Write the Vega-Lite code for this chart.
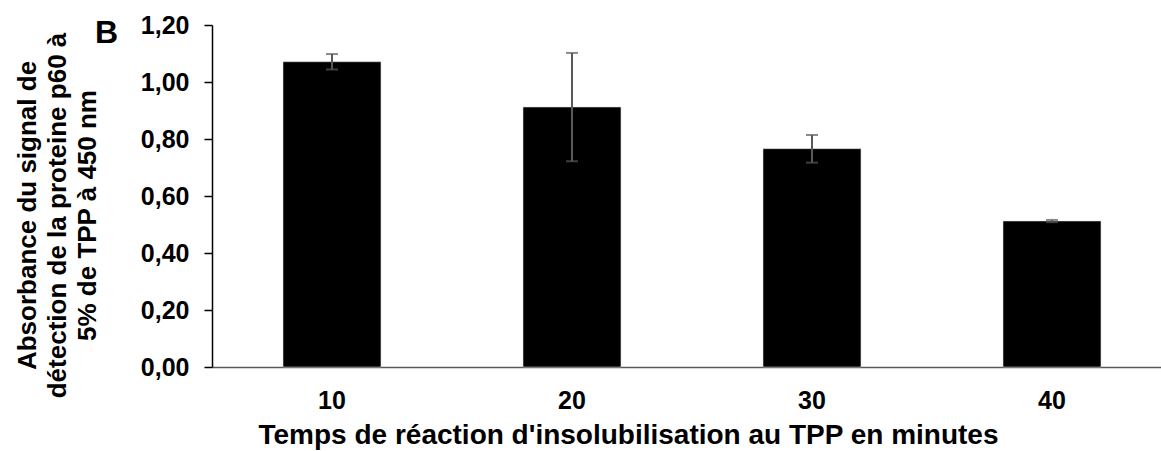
{
  "$schema": "https://vega.github.io/schema/vega-lite/v6.json",
  "autosize": {"type": "none"},
  "width": 949,
  "height": 342,
  "padding": {"left": 212, "top": 25, "right": 0, "bottom": 84},
  "background": "white",
  "config": {
    "view": {"stroke": null},
    "font": "Liberation Sans",
    "axis": {"labelFont": "Liberation Sans", "titleFont": "Liberation Sans", "labelFontWeight": "bold", "titleFontWeight": "bold", "labelColor": "black", "titleColor": "black", "grid": false}
  },
  "title": {"text": "B", "anchor": "start", "frame": "group", "fontSize": 32, "font": "Liberation Sans", "fontWeight": "bold", "color": "black", "dx": -117, "dy": 66, "baseline": "alphabetic"},
  "data": {"values": [
    {"time": "10", "mean": 1.071, "lo": 1.044, "hi": 1.098},
    {"time": "20", "mean": 0.912, "lo": 0.722, "hi": 1.102},
    {"time": "30", "mean": 0.766, "lo": 0.717, "hi": 0.814},
    {"time": "40", "mean": 0.512, "lo": 0.508, "hi": 0.516}
  ]},
  "encoding": {
    "x": {
      "field": "time", "type": "nominal", "sort": null,
      "scale": {"range": [0, 960], "paddingInner": 0.592, "paddingOuter": 0.296},
      "axis": {"title": "Temps de réaction d'insolubilisation au TPP en minutes", "labelAngle": 0, "labelFontSize": 25, "titleFontSize": 28, "ticks": false, "labelPadding": 21, "titlePadding": 8, "domainColor": "#595959", "domainWidth": 1.5, "titleX": 416, "titleAnchor": "middle", "titleAlign": "center"}
    }
  },
  "layer": [
    {
      "mark": {"type": "bar", "color": "black", "stroke": "#d9d9d9", "strokeWidth": 0.5},
      "encoding": {
        "y": {
          "field": "mean", "type": "quantitative",
          "scale": {"domain": [0, 1.2], "nice": false},
          "axis": {
            "values": [0, 0.2, 0.4, 0.6, 0.8, 1.0, 1.2],
            "labelExpr": "replace(format(datum.value, '.2f'), '.', ',')",
            "labelFontSize": 25, "labelPadding": 15, "tickSize": 8, "tickColor": "black", "domainColor": "black", "domainWidth": 1.5, "tickWidth": 1.5,
            "title": ["Absorbance du signal de", "détection de la proteine p60 à", "5% de TPP à 450 nm"],
            "titleFontSize": 26, "titleLineHeight": 30, "titleAngle": -90, "titleAlign": "center", "titleBaseline": "middle",
            "titleX": -185, "titleY": 190
          }
        }
      }
    },
    {
      "mark": {"type": "rule", "color": "#595959", "strokeWidth": 2},
      "encoding": {"y": {"field": "lo", "type": "quantitative"}, "y2": {"field": "hi"}}
    },
    {
      "mark": {"type": "tick", "color": "#595959", "thickness": 2, "size": 12},
      "encoding": {"y": {"field": "lo", "type": "quantitative"}}
    },
    {
      "mark": {"type": "tick", "color": "#595959", "thickness": 2, "size": 12},
      "encoding": {"y": {"field": "hi", "type": "quantitative"}}
    }
  ]
}
